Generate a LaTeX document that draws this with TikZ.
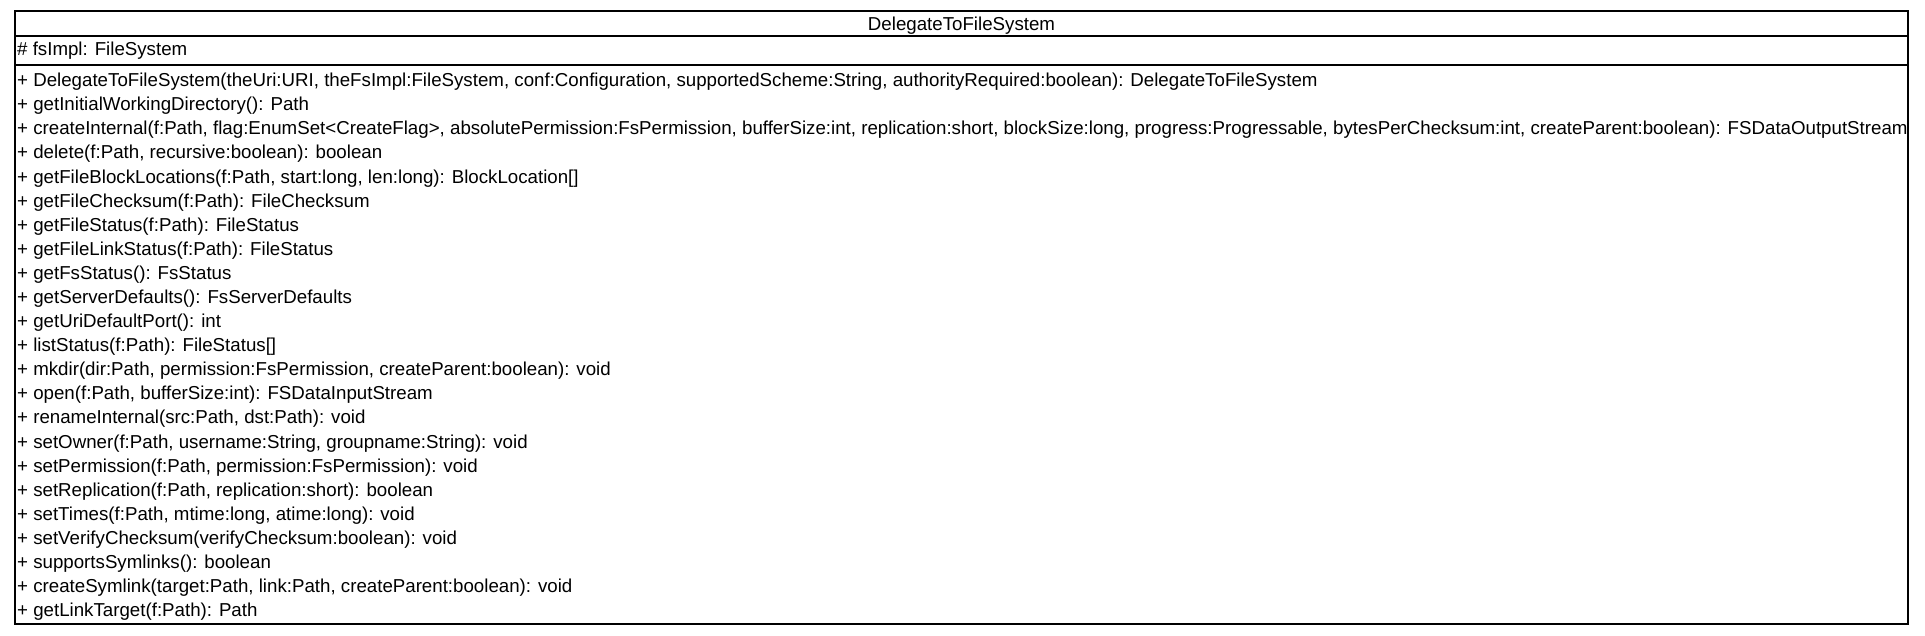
\documentclass[tikz,border=0pt]{standalone}
\usepackage{fontspec}
\setmainfont{Liberation Sans}
\begin{document}
\begin{tikzpicture}[x=1pt,y=-1pt,
  member/.style={anchor=base west,inner sep=0pt,font=\fontsize{18.7}{22}\selectfont},
  boxline/.style={line width=1.4pt,draw=black}]
\useasboundingbox (0,0) rectangle (1925,635);
\draw[boxline] (15,11) rectangle (1908,624);
\draw[boxline] (15,36) -- (1908,36);
\draw[boxline] (15,65) -- (1908,65);
\node[member,anchor=base] (title) at (961.5,30) {DelegateToFileSystem};
\node[member] (attr) at (17,55) {\# fsImpl: FileSystem};
\foreach \t [count=\i from 0] in {
 {+ DelegateToFileSystem(theUri:URI, theFsImpl:FileSystem, conf:Configuration, supportedScheme:String, authorityRequired:boolean): DelegateToFileSystem},
 {+ getInitialWorkingDirectory(): Path},
 {+ createInternal(f:Path, flag:EnumSet<CreateFlag>, absolutePermission:FsPermission, bufferSize:int, replication:short, blockSize:long, progress:Progressable, bytesPerChecksum:int, createParent:boolean): FSDataOutputStream},
 {+ delete(f:Path, recursive:boolean): boolean},
 {+ getFileBlockLocations(f:Path, start:long, len:long): BlockLocation[]},
 {+ getFileChecksum(f:Path): FileChecksum},
 {+ getFileStatus(f:Path): FileStatus},
 {+ getFileLinkStatus(f:Path): FileStatus},
 {+ getFsStatus(): FsStatus},
 {+ getServerDefaults(): FsServerDefaults},
 {+ getUriDefaultPort(): int},
 {+ listStatus(f:Path): FileStatus[]},
 {+ mkdir(dir:Path, permission:FsPermission, createParent:boolean): void},
 {+ open(f:Path, bufferSize:int): FSDataInputStream},
 {+ renameInternal(src:Path, dst:Path): void},
 {+ setOwner(f:Path, username:String, groupname:String): void},
 {+ setPermission(f:Path, permission:FsPermission): void},
 {+ setReplication(f:Path, replication:short): boolean},
 {+ setTimes(f:Path, mtime:long, atime:long): void},
 {+ setVerifyChecksum(verifyChecksum:boolean): void},
 {+ supportsSymlinks(): boolean},
 {+ createSymlink(target:Path, link:Path, createParent:boolean): void},
 {+ getLinkTarget(f:Path): Path}}
{
  \node[member] (m\i) at (17,86.7+24.09*\i) {\t};
}
\end{tikzpicture}
\end{document}
